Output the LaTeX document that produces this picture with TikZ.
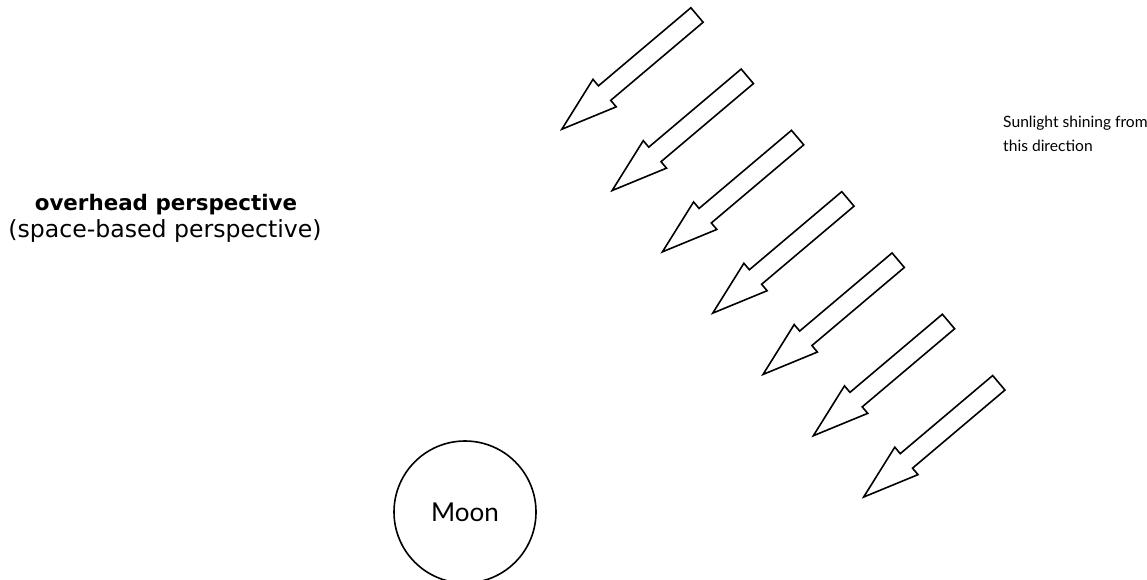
\documentclass[tikz,border=0pt]{standalone}
\usepackage{fontspec}
\setmainfont{Lato}
\newfontfamily\titlefont{DejaVu Sans}
\usepackage{tikz}
\usetikzlibrary{positioning}

\tikzset{
  sunarrow/.style={line width=1.6pt, line join=miter},
  moonbody/.style={circle, draw, line width=1.6pt, minimum size=142pt, font=\fontsize{26}{30}\selectfont},
  caption/.style={anchor=base west, inner sep=0pt, font=\fontsize{15.6}{25}\selectfont},
  heading/.style={anchor=base, inner sep=0pt}
}

\begin{document}
\begin{tikzpicture}[x=1pt, y=1pt]
  \useasboundingbox (0,0) rectangle (1147,-579);
  % Title
  \node[heading, font=\titlefont\bfseries\fontsize{21.4}{26}\selectfont] (title) at (166,-210) {overhead perspective};
  \node[heading, font=\titlefont\fontsize{23.6}{28}\selectfont] (subtitle) at (165,-237) {(space-based perspective)};
  % Sunlight
  \foreach \i in {0,...,6} {
    \draw[sunarrow, shift={(697+50.3*\i, -15-61.3*\i)}, rotate=220.2]
      (0,9.5) -- (121,9.5) -- (121,18) -- (177,0) -- (121,-18) -- (121,-9.5) -- (0,-9.5) -- cycle;
  }
  \node[caption] (sun) at (1003,-127) {Sunlight shining from};
  \node[caption] (sundir) at (1003,-151) {this direction};
  % Moon
  \node[moonbody] (moon) at (465,-512) {Moon};
\end{tikzpicture}
\end{document}
